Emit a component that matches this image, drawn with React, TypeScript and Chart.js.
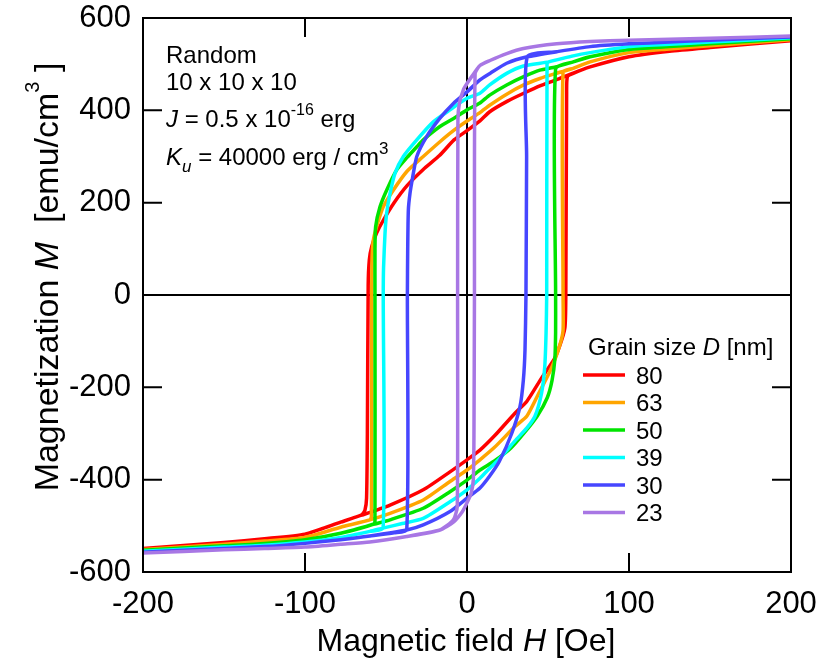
import React, { useEffect, useRef } from "react";
import { Chart, registerables } from "chart.js";

Chart.register(...registerables);

// ---------- data (H [Oe], M [emu/cm^3]) ----------
const grainSizes = ["80", "63", "50", "39", "30", "23"];
const seriesColors = ["#ff0000", "#ffa500", "#00e400", "#00ffff", "#4646ff", "#a877e4"];

const xTicks = [-200, -100, 0, 100, 200];
const yTicks = [-600, -400, -200, 0, 200, 400, 600];

const d80Desc: number[][] = [[200, 551], [150, 536], [125, 528], [100, 516], [76, 494], [65, 480], [55, 466], [45, 453], [35, 437], [25, 420], [14, 397], [8, 377], [0, 356], [-8, 336], [-17, 302], [-27, 272], [-37, 237], [-45, 200], [-51.5, 163], [-55.8, 134], [-58.8, 105], [-60.3, 76], [-61, 20], [-61.5, -300], [-62, -440], [-63, -466], [-65, -476], [-78, -492], [-100, -518], [-125, -528], [-150, -536], [-200, -549]];
const d80Asc: number[][] = [[-200, -549], [-150, -536], [-125, -528], [-100, -518], [-78, -492], [-65, -477], [-47.5, -455], [-27, -422], [-10.5, -383], [0, -357], [8, -336], [17, -305], [29.6, -256], [37, -230], [46, -180], [54.3, -136], [58.5, -97], [60.5, -69], [61, 0], [61.5, 440], [62, 473], [65.6, 480], [76, 494], [100, 516], [125, 528], [150, 536], [200, 551]];

const d63Desc: number[][] = [[200, 553], [150, 540], [125, 533], [100, 525], [76, 505], [65.6, 491], [55, 480], [45, 469], [35, 455], [24.5, 435], [14, 411], [8, 395], [0, 377], [-8, 357], [-16.7, 332], [-27, 300], [-37, 268], [-45.5, 227], [-51.7, 191], [-55.8, 148], [-57.8, 119], [-58.6, 80], [-58.8, 0], [-59, -480], [-60, -487], [-78, -503], [-100, -525], [-125, -533], [-150, -540], [-200, -551]];
const d63Asc: number[][] = [[-200, -551], [-150, -540], [-125, -533], [-100, -525], [-78, -503], [-60, -487], [-47.5, -473], [-27, -444], [-10.5, -404], [0, -379], [8, -357], [17, -330], [29.6, -285], [37, -262], [44, -215], [52.3, -157], [57.4, -107], [59.3, -76], [59.3, 0], [59.3, 483], [65.6, 491], [76, 505], [100, 525], [125, 533], [150, 540], [200, 553]];

const d50Desc: number[][] = [[200, 555], [150, 544], [125, 538], [100, 532], [76, 516], [65.6, 505], [54.7, 494], [45, 487], [35, 473], [24.5, 455], [14, 433], [8, 416], [0, 401], [-8, 383], [-16.7, 365], [-27, 336], [-31, 321], [-37, 298], [-43.4, 271], [-49.6, 227], [-53.7, 191], [-56.4, 148], [-56.8, 100], [-56.8, 0], [-56.8, -490], [-57.5, -496], [-78, -516], [-100, -530], [-125, -538], [-150, -543], [-200, -553]];
const d50Asc: number[][] = [[-200, -553], [-150, -543], [-125, -538], [-100, -530], [-78, -516], [-57, -496], [-47.5, -487], [-27, -462], [-10.5, -426], [0, -401], [8, -379], [16.7, -360], [27, -332], [35, -300], [43.4, -262], [49.6, -222], [52.5, -185], [54.2, -140], [54.7, -80], [54.7, 0], [54.7, 490], [65.6, 505], [76, 516], [100, 532], [125, 538], [150, 544], [200, 555]];

const d39Desc: number[][] = [[200, 557], [150, 548], [125, 543], [100, 538], [76, 525], [65.6, 518], [50.4, 505], [34.8, 496], [24.5, 480], [14, 455], [8, 437], [0, 426], [-10.5, 401], [-20.8, 375], [-31, 336], [-39.3, 300], [-44.4, 264], [-47.5, 220], [-49.6, 177], [-50.6, 134], [-51.5, 60], [-51.7, 0], [-51.8, -505], [-60, -512], [-78, -525], [-100, -535], [-125, -542], [-150, -546], [-200, -555]];
const d39Asc: number[][] = [[-200, -555], [-150, -546], [-125, -542], [-100, -535], [-78, -525], [-60, -512], [-52, -505], [-40, -495], [-27, -484], [-10.5, -448], [0, -422], [8, -397], [13.2, -378], [20.8, -352], [29.6, -316], [37, -288], [42, -262], [46, -213], [48, -155], [48.8, -83], [49.2, 0], [49.4, 500], [50.4, 505], [65.6, 518], [76, 525], [100, 538], [125, 543], [150, 548], [200, 557]];

const d30Desc: number[][] = [[200, 559], [150, 552], [125, 548], [100, 544], [76, 538], [55.4, 527], [37.2, 516], [24.5, 502], [14.2, 480], [8, 466], [0, 440], [-8.4, 415], [-16.7, 383], [-24.9, 343], [-31, 300], [-33.5, 256], [-35.2, 220], [-36.2, 184], [-36.6, 100], [-36.8, 0], [-37.2, -509], [-45, -515], [-60, -522], [-78, -530], [-100, -538], [-125, -545], [-150, -549], [-200, -557]];
const d30Asc: number[][] = [[-200, -557], [-150, -549], [-125, -545], [-100, -538], [-78, -530], [-60, -522], [-37.2, -509], [-27, -498], [-10.5, -469], [0, -440], [8, -418], [14, -392], [20, -360], [27.6, -300], [32.7, -242], [34.8, -184], [35.8, -119], [36.4, 0], [36.8, 300], [37.2, 516], [55.4, 527], [76, 538], [100, 544], [125, 548], [150, 552], [200, 559]];

const d23Desc: number[][] = [[200, 561], [150, 556], [125, 554], [100, 552], [76, 549], [55.4, 544], [34.8, 534], [24.5, 523], [14.2, 508], [8, 497], [2.9, 473], [0, 458], [-2.3, 444], [-4.7, 415], [-5.6, 380], [-5.8, 0], [-6, -458], [-8.4, -487], [-16.7, -509], [-37.2, -523], [-60, -535], [-78, -540], [-100, -546], [-125, -549], [-150, -552], [-200, -559]];
const d23Asc: number[][] = [[-200, -559], [-150, -552], [-125, -549], [-100, -546], [-78, -540], [-60, -535], [-37.2, -523], [-16.7, -509], [-8.4, -492], [-3, -470], [0, -450], [2.5, -430], [3.9, -400], [4.3, -300], [4.6, 0], [5, 480], [8, 497], [14.2, 508], [24.5, 523], [34.8, 534], [55.4, 544], [76, 549], [100, 552], [125, 554], [150, 556], [200, 561]];

const loops = [
  [d80Desc, d80Asc],
  [d63Desc, d63Asc],
  [d50Desc, d50Asc],
  [d39Desc, d39Asc],
  [d30Desc, d30Asc],
  [d23Desc, d23Asc],
];

// ---------- text helpers ----------
const FONT = '"Liberation Sans", Arial, Helvetica, sans-serif';
type Seg = { t: string; size: number; italic?: boolean; dy?: number };

function segFont(s: Seg) {
  return `${s.italic ? "italic " : ""}${s.size}px ${FONT}`;
}
function measureRich(ctx: CanvasRenderingContext2D, segs: Seg[]) {
  let w = 0;
  for (const s of segs) {
    ctx.font = segFont(s);
    w += ctx.measureText(s.t).width;
  }
  return w;
}
function drawRich(ctx: CanvasRenderingContext2D, segs: Seg[], x: number, y: number, align: "left" | "center") {
  let cx = align === "center" ? x - measureRich(ctx, segs) / 2 : x;
  ctx.textAlign = "left";
  ctx.textBaseline = "alphabetic";
  ctx.fillStyle = "#000";
  for (const s of segs) {
    ctx.font = segFont(s);
    ctx.fillText(s.t, cx, y + (s.dy || 0));
    cx += ctx.measureText(s.t).width;
  }
}

const decorPlugin = {
  id: "decor",
  beforeDatasetsDraw(chart: any) {
    const { ctx, chartArea: a, scales } = chart;
    const x0 = scales.x.getPixelForValue(0);
    const y0 = scales.y.getPixelForValue(0);
    ctx.save();
    ctx.strokeStyle = "#000";
    ctx.lineWidth = 2;
    ctx.beginPath();
    ctx.moveTo(x0, a.top);
    ctx.lineTo(x0, a.bottom);
    ctx.moveTo(a.left, y0);
    ctx.lineTo(a.right, y0);
    ctx.stroke();
    ctx.restore();
  },
  afterDatasetsDraw(chart: any) {
    const { ctx, chartArea: a, scales } = chart;
    ctx.save();
    ctx.strokeStyle = "#000";
    ctx.lineWidth = 2;
    ctx.strokeRect(a.left, a.top, a.right - a.left, a.bottom - a.top);
    const tl = 19;
    ctx.beginPath();
    for (const v of xTicks) {
      const px = scales.x.getPixelForValue(v);
      ctx.moveTo(px, a.bottom);
      ctx.lineTo(px, a.bottom - tl);
      ctx.moveTo(px, a.top);
      ctx.lineTo(px, a.top + tl);
    }
    for (const v of yTicks) {
      const py = scales.y.getPixelForValue(v);
      ctx.moveTo(a.left, py);
      ctx.lineTo(a.left + tl, py);
      ctx.moveTo(a.right, py);
      ctx.lineTo(a.right - tl, py);
    }
    ctx.stroke();

    // annotation
    const s = 24;
    drawRich(ctx, [{ t: "Random", size: s }], 166, 63, "left");
    drawRich(ctx, [{ t: "10 x 10 x 10", size: s }], 166, 90, "left");
    drawRich(ctx, [
      { t: "J", size: s, italic: true },
      { t: " = 0.5 x 10", size: s },
      { t: "-16", size: 16, dy: -12 },
      { t: " erg", size: s },
    ], 166, 127, "left");
    drawRich(ctx, [
      { t: "K", size: s, italic: true },
      { t: "u", size: 17, italic: true, dy: 7 },
      { t: " = 40000 erg / cm", size: s },
      { t: "3", size: 17, dy: -11 },
    ], 166, 165, "left");

    // legend
    drawRich(ctx, [
      { t: "Grain size ", size: s },
      { t: "D", size: s, italic: true },
      { t: " [nm]", size: s },
    ], 588, 355, "left");
    grainSizes.forEach((g, i) => {
      const y = 375 + i * 27.5;
      ctx.strokeStyle = seriesColors[i];
      ctx.lineWidth = 3.5;
      ctx.beginPath();
      ctx.moveTo(583, y);
      ctx.lineTo(625, y);
      ctx.stroke();
      drawRich(ctx, [{ t: g, size: s }], 636, y + 8.5, "left");
    });

    // axis titles
    drawRich(ctx, [
      { t: "Magnetic field ", size: 32 },
      { t: "H", size: 32, italic: true },
      { t: " [Oe]", size: 32 },
    ], 466, 651, "center");
    ctx.save();
    ctx.translate(58, 277);
    ctx.rotate(-Math.PI / 2);
    drawRich(ctx, [
      { t: "Magnetization ", size: 34 },
      { t: "M", size: 34, italic: true },
      { t: "  [emu/cm", size: 34 },
      { t: "3", size: 20, dy: -19 },
      { t: " ]", size: 34 },
    ], 0, 0, "center");
    ctx.restore();
    ctx.restore();
  },
};

export default function App() {
  const ref = useRef<HTMLCanvasElement | null>(null);
  useEffect(() => {
    document.body.style.margin = "0";
    const canvas = ref.current;
    if (!canvas) return;
    const datasets = loops.map(([desc, asc], i) => ({
      label: grainSizes[i],
      data: [...desc, ...asc].map(([x, y]) => ({ x, y })),
      showLine: true,
      borderColor: seriesColors[i],
      backgroundColor: seriesColors[i],
      borderWidth: 3.5,
      borderJoinStyle: "round",
      pointRadius: 0,
      fill: false,
      tension: 0.2,
      order: loops.length - i,
    }));
    const tickFont = { family: FONT, size: 31 };
    const chart = new Chart(canvas, {
      type: "scatter",
      data: { datasets },
      plugins: [decorPlugin],
      options: {
        animation: false,
        responsive: false,
        devicePixelRatio: 1,
        layout: { padding: { left: 0, right: 31, top: 18, bottom: 0 } },
        plugins: { legend: { display: false }, tooltip: { enabled: false } },
        scales: {
          x: {
            type: "linear",
            min: -200,
            max: 200,
            grid: { display: false },
            border: { display: false },
            ticks: { stepSize: 100, font: tickFont, color: "#000", padding: 6, maxRotation: 0 },
            afterFit: (sc: any) => {
              sc.height = 96;
              sc.paddingLeft = 0;
              sc.paddingRight = 0;
            },
          },
          y: {
            type: "linear",
            min: -600,
            max: 600,
            grid: { display: false },
            border: { display: false },
            ticks: { stepSize: 200, font: tickFont, color: "#000", padding: 4 },
            afterFit: (sc: any) => {
              sc.width = 143;
              sc.paddingTop = 0;
              sc.paddingBottom = 0;
            },
          },
        },
      } as any,
    });
    return () => chart.destroy();
  }, []);
  return <canvas ref={ref} width={822} height={668} style={{ display: "block" }} />;
}
